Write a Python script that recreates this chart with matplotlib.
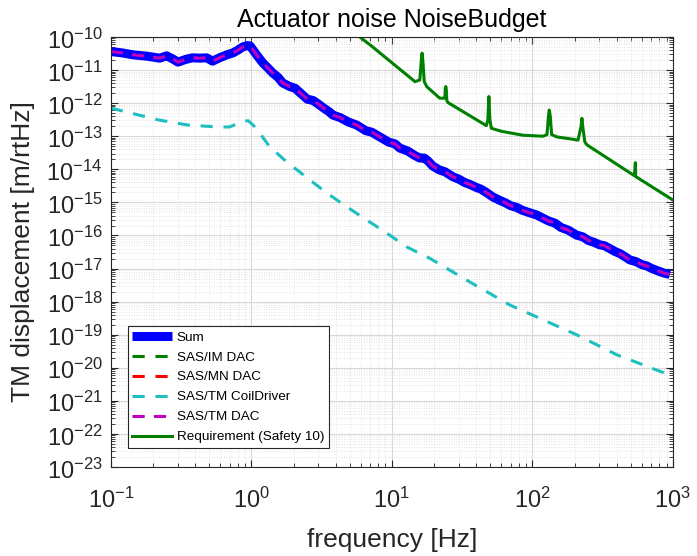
import matplotlib
matplotlib.use("Agg")
import matplotlib.pyplot as plt
import numpy as np
from matplotlib.ticker import LogLocator, NullFormatter
from matplotlib.transforms import ScaledTranslation

plt.rcParams["font.family"] = ["Liberation Sans", "DejaVu Sans"]

# --- data (log10 of displacement) ---
sum_freq = [0.10, 0.12, 0.144, 0.18, 0.223, 0.25, 0.28, 0.30, 0.34, 0.38, 0.43, 0.48,
            0.53, 0.60, 0.67, 0.74, 0.80, 0.87, 0.93, 0.98, 1.09, 1.21, 1.30, 1.42, 1.55,
            1.67, 1.88, 2.05, 2.2, 2.5, 2.75, 2.93, 3.3, 3.6, 3.8, 4.3, 4.9, 5.6, 6.5,
            7.2, 8.2, 9.5, 10.5, 11.4, 13.0, 14.5, 15.8, 17.0, 18.0, 19.5, 21.8, 24.0,
            27.0, 30.0, 33.0, 36.0, 40.0, 43.0, 47.0, 52.0, 58.0, 64.0, 70.0, 77.0, 85.0,
            95.0, 107.0, 118.0, 130.0, 145.0, 160.0, 180.0, 206.0, 228.0, 250.0, 275.0,
            300.0, 325.0, 353.0, 385.0, 420.0, 455.0, 494.0, 545.0, 600.0, 650.0, 700.0,
            780.0, 869.0, 950.0]
sum_log = [-10.44, -10.48, -10.54, -10.58, -10.64, -10.57, -10.68, -10.76, -10.68, -10.63,
           -10.64, -10.63, -10.73, -10.62, -10.54, -10.48, -10.40, -10.30, -10.26, -10.27,
           -10.54, -10.79, -10.92, -11.09, -11.22, -11.39, -11.50, -11.55, -11.67, -11.88,
           -11.92, -12.00, -12.16, -12.27, -12.36, -12.44, -12.57, -12.66, -12.83, -12.88,
           -13.02, -13.18, -13.23, -13.36, -13.45, -13.58, -13.66, -13.66, -13.74, -13.90,
           -14.02, -14.08, -14.22, -14.30, -14.40, -14.46, -14.55, -14.60, -14.70, -14.83,
           -14.93, -15.01, -15.10, -15.15, -15.24, -15.31, -15.38, -15.47, -15.56, -15.63,
           -15.76, -15.84, -15.99, -16.04, -16.15, -16.21, -16.28, -16.31, -16.39, -16.48,
           -16.55, -16.64, -16.74, -16.79, -16.88, -16.92, -16.99, -17.07, -17.14, -17.18]

coil_freq = [0.10, 0.22, 0.35, 0.57, 0.70, 0.85, 0.95, 1.05, 1.2, 1.35, 1.79, 2.5, 3.45,
             4.8, 6.6, 9.2, 12.8, 18.6, 36.0, 69.0, 107.0, 206.0, 400.0, 950.0, 1000.0]
coil_log = [-12.15, -12.51, -12.66, -12.72, -12.72, -12.57, -12.53, -12.70, -13.02, -13.32,
            -13.78, -14.26, -14.72, -15.14, -15.53, -15.93, -16.35, -16.69, -17.41, -18.10,
            -18.46, -19.00, -19.61, -20.22, -20.26]

req_freq = [5.5, 7.0, 14.6, 15.8, 16.2, 16.4, 16.6, 17.0, 17.7, 21.9, 23.8, 24.0, 24.2,
            24.4, 24.6, 25.0, 47.0, 48.2, 49.0, 49.8, 51.0, 60.0, 85.5, 119.0, 127.0,
            130.0, 131.8, 134.0, 137.0, 149.0, 200.0, 211.0, 222.0, 225.0, 228.0, 236.0,
            244.0, 530.0, 537.0, 540.0, 543.0, 1000.0]
req_log = [-9.90, -10.24, -11.35, -11.30, -10.70, -10.49, -10.70, -11.35, -11.50, -11.85,
           -11.85, -11.55, -11.50, -11.60, -11.92, -11.98, -12.68, -12.50, -11.80, -12.50,
           -12.76, -12.85, -12.97, -13.00, -12.95, -12.40, -12.21, -12.40, -12.95, -13.02,
           -13.10, -13.12, -12.70, -12.46, -12.70, -13.17, -13.26, -14.19, -14.0, -13.80,
           -14.22, -14.93]

# SAS/IM and SAS/MN DAC are below the plotted range
im_freq, im_val = [], []
mn_freq, mn_val = [], []

x_decades = np.arange(-1, 4)
y_decades = np.arange(-23, -9)

fig = plt.figure(figsize=(6.97, 5.56), dpi=100)
ax = fig.add_axes([0.159, 0.160, 0.8065, 0.7735])

sum_val = 10.0 ** np.array(sum_log)
ax.loglog(sum_freq, sum_val, color="#0000ff", lw=6.5, solid_joinstyle="round",
          solid_capstyle="butt", label="Sum")
ax.loglog(im_freq, im_val, color="#008000", lw=2.2, ls=(0, (4, 3.5)), label="SAS/IM DAC")
ax.loglog(mn_freq, mn_val, color="#ff0000", lw=2.2, ls=(0, (4, 3.5)), label="SAS/MN DAC")
ax.loglog(coil_freq, 10.0 ** np.array(coil_log), color="#1fbfbf", lw=2.2,
          ls=(0, (4, 3.5)), label="SAS/TM CoilDriver")
ax.loglog(sum_freq, sum_val, color="#bf00bf", lw=2.2, ls=(0, (4, 3)), label="SAS/TM DAC")
ax.loglog(req_freq, 10.0 ** np.array(req_log), color="#008000", lw=2.2,
          label="Requirement (Safety 10)")

ax.set_xlim(0.1, 1000)
ax.set_ylim(1e-23, 1e-10)
ax.set_xticks(10.0 ** x_decades)
ax.set_yticks(10.0 ** y_decades)
ax.xaxis.set_minor_locator(LogLocator(base=10, subs=np.arange(2, 10), numticks=50))
ax.yaxis.set_minor_locator(LogLocator(base=10, subs=np.arange(2, 10), numticks=50))
ax.xaxis.set_minor_formatter(NullFormatter())
ax.yaxis.set_minor_formatter(NullFormatter())

ax.grid(True, which="major", color="#d9d9d9", lw=0.8, ls="-")
ax.grid(True, which="minor", color="#d9d9d9", lw=0.6, ls=(0, (1, 2)))
ax.set_axisbelow(True)
ax.tick_params(which="both", direction="in", top=True, right=True, colors="#262626")
ax.tick_params(which="major", length=5, labelsize=17)
ax.tick_params(axis="x", which="major", pad=15)
ax.tick_params(axis="y", which="major", pad=6)
ax.tick_params(which="minor", length=3)
for s in ax.spines.values():
    s.set_color("#262626")
    s.set_linewidth(0.8)

# MATLAB puts the "10" on the tick, so the labels sit a bit lower
shift = ScaledTranslation(0, -1 / 72, fig.dpi_scale_trans)
for lab in ax.get_yticklabels():
    lab.set_transform(lab.get_transform() + shift)

ax.set_xlabel("frequency [Hz]", fontsize=19, color="#262626", labelpad=11)
ax.set_ylabel("TM displacement [m/rtHz]", fontsize=19, color="#262626", labelpad=8)
ax.set_title("Actuator noise NoiseBudget", fontsize=18, color="black", pad=7)

leg = ax.legend(loc="lower left", bbox_to_anchor=(0.030, 0.044), borderaxespad=0,
                fontsize=9.7, handlelength=2.95, fancybox=False, framealpha=1,
                edgecolor="#262626", labelspacing=0.56, borderpad=0.35,
                handletextpad=0.35)
leg.get_frame().set_linewidth(0.8)

fig.savefig("out.png", dpi=100)
